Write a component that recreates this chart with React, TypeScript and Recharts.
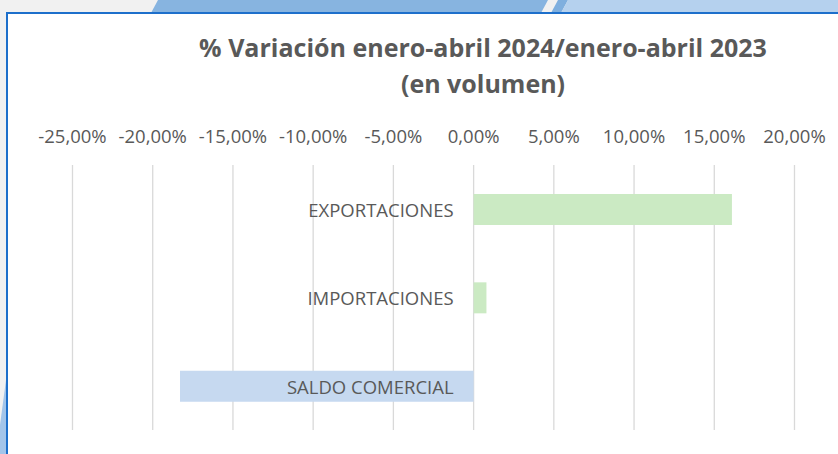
import React from 'react';
import { BarChart, Bar, XAxis, YAxis, CartesianGrid, Cell, LabelList } from 'recharts';

// values (% change, Jan-Apr 2024 vs Jan-Apr 2023)
const categories = ['EXPORTACIONES', 'IMPORTACIONES', 'SALDO COMERCIAL'];
const variation = [16.1, 0.8, -18.3];
const barColors = ['#cbeac3', '#cbeac3', '#c6d9f0'];
const xTicks = [-25, -20, -15, -10, -5, 0, 5, 10, 15, 20];
const titleLines = ['% Variación enero-abril 2024/enero-abril 2023', '(en volumen)'];

const data = categories.map((name, i) => ({ name, value: variation[i] }));

const fmt = (v: number) => v.toFixed(2).replace('.', ',') + '%';

const FONT = '"Open Sans", "Noto Sans", sans-serif';
const GREY = '#595959';

const CategoryLabel = (props: any) => {
  const { x, y, width, height, value, index } = props;
  const v = variation[index] ?? 0;
  let zero = x;
  if (width >= 0 && v < 0) zero = x + width;
  return (
    <text
      x={zero - 20}
      y={y + height / 2}
      textAnchor="end"
      dominantBaseline="central"
      fontFamily={FONT}
      fontSize={18.5}
      fill={GREY}
    >
      {value}
    </text>
  );
};

const Backdrop = () => (
  <svg width={838} height={454} style={{ position: 'absolute', left: 0, top: 0 }}>
    <rect x={0} y={0} width={838} height={454} fill="#f1f1f1" />
    <polygon points="151,13 158,0 548,0 541,13" fill="#87b4e0" />
    <polygon points="551,13 558,0 568,0 561,13" fill="#7fafde" />
    <polygon points="561,13 568,0 838,0 838,13" fill="#b5d1ee" />
    <polygon points="0,454 6,454 6,380 0,425" fill="#a3c5ea" />
    <rect x={7} y={13} width={840} height={450} fill="#ffffff" stroke="#1d6fcb" strokeWidth={2} />
  </svg>
);

export default function App() {
  return (
    <div style={{ position: 'absolute', left: 0, top: 0, width: 838, height: 454, overflow: 'hidden' }}>
      <Backdrop />
      <svg width={838} height={120} style={{ position: 'absolute', left: 0, top: 0 }}>
        {titleLines.map((t, i) => (
          <text
            key={t}
            x={483}
            y={57 + i * 36}
            textAnchor="middle"
            fontFamily={FONT}
            fontWeight={700}
            fontSize={25}
            fill={GREY}
          >
            {t}
          </text>
        ))}
      </svg>
      <div style={{ position: 'absolute', left: 0, top: 0 }}>
        <BarChart
          width={838}
          height={454}
          data={data}
          layout="vertical"
          margin={{ top: 135, right: 43.5, bottom: 24, left: 72.5 }}
          barSize={31}
        >
          <CartesianGrid horizontal={false} stroke="#d9d9d9" strokeWidth={1.3} />
          <XAxis
            type="number"
            orientation="top"
            domain={[-25, 20]}
            ticks={xTicks}
            tickFormatter={fmt}
            axisLine={false}
            tickLine={false}
            tickSize={0}
            tickMargin={22}
            interval={0}
            tick={{ fill: GREY, fontSize: 18.5, fontFamily: FONT }}
          />
          <YAxis type="category" dataKey="name" hide />
          <Bar dataKey="value" isAnimationActive={false}>
            {data.map((d, i) => (
              <Cell key={d.name} fill={barColors[i]} />
            ))}
            <LabelList dataKey="name" content={<CategoryLabel />} />
          </Bar>
        </BarChart>
      </div>
    </div>
  );
}
